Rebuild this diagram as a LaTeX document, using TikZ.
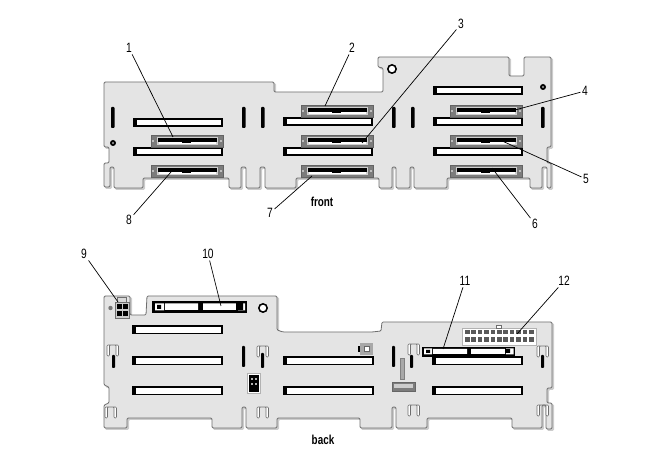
\documentclass[tikz,border=0pt]{standalone}
\usepackage{fontspec}
\setmainfont[FakeStretch=0.76]{Liberation Sans}
\definecolor{boardgray}{HTML}{E4E4E4}
\definecolor{shadegray}{HTML}{CCCCCC}
\definecolor{edgegray}{HTML}{6E6E6E}
\definecolor{framegray}{HTML}{7C7C7C}
\definecolor{pingray}{HTML}{A8A8A8}
\tikzset{
  board/.style={draw=edgegray, fill=boardgray, line width=0.8pt, rounded corners=1.2pt},
  shade/.style={draw=shadegray, fill=shadegray, line width=1pt, rounded corners=1.2pt},
  slot/.style={draw=black, fill=white, line width=1.4pt},
  bar/.style={fill=black, rounded corners=0.8pt},
  clip/.style={draw=edgegray, fill=white, line width=0.7pt, rounded corners=1pt},
  scsi/.style={draw=framegray!80!black, fill=framegray, line width=0.5pt, minimum width=72pt, minimum height=12pt, inner sep=0pt},
  wide/.style={draw=black, fill=black, line width=0.6pt, inner sep=0pt},
  hole/.style={fill=black},
  num/.style={font=\fontsize{13.5}{13}\selectfont, inner sep=1.5pt},
  caption/.style={font=\fontsize{13}{13}\selectfont\bfseries, inner sep=1pt},
  leader/.style={draw=black, line width=0.7pt},
}
\newcommand{\frontboard}{(104,82) -- (274,82) -- (274,92) -- (383,92) -- (383,68) -- (378,67) -- (378,57) -- (509,57) -- (509,76) -- (524,76) -- (524,57) -- (551,57) -- (551,147) -- (547,147) -- (547,163) -- (551,163) -- (551,188) -- (547,188) -- (547,167) -- (542,167) -- (542,188) -- (530,188) -- (530,178) -- (447,178) -- (447,188) -- (414,188) -- (414,167) -- (410,167) -- (410,188) -- (396,188) -- (396,167) -- (392,167) -- (392,188) -- (379,188) -- (379,178) -- (296,178) -- (296,188) -- (265,188) -- (265,167) -- (260,167) -- (260,188) -- (246,188) -- (246,167) -- (241,167) -- (241,188) -- (229,188) -- (229,178) -- (143,178) -- (143,188) -- (114,188) -- (114,167) -- (110,167) -- (110,187) -- (104,187) -- (104,163) -- (109,163) -- (109,147) -- (104,147) -- cycle}
\newcommand{\backboard}{(104,296) -- (130,296) -- (130,315) -- (146,315) -- (147,296) -- (277,296) -- (277,330) -- (283,332) -- (372,332) -- (381,331) -- (382,322) -- (552,322) -- (552,388) -- (547,388) -- (547,403) -- (552,403) -- (552,429) -- (546,429) -- (546,405) -- (542,405) -- (542,428) -- (512,428) -- (512,418) -- (427,418) -- (427,428) -- (396,428) -- (396,407) -- (392,407) -- (392,428) -- (360,428) -- (360,418) -- (277,418) -- (277,428) -- (246,428) -- (246,407) -- (242,407) -- (242,428) -- (212,428) -- (212,418) -- (127,418) -- (127,428) -- (104,428) -- (104,405) -- (109,403) -- (109,387) -- (104,385) -- cycle}
\begin{document}
\begin{tikzpicture}[x=1pt,y=-1pt]
    \useasboundingbox (0,0) rectangle (657,473);
    % front board
    \path[shade,xshift=1.5pt,yshift=-1.5pt] \frontboard;
    \path[board] \frontboard;
    \foreach \x/\y in {134/119,134/148,284/118,284/148,434/87,434/118,434/148} {
        \draw[slot] (\x,\y) rectangle (\x+88,\y+7);
        \fill[black] (\x,\y) rectangle (\x+2.5,\y+7);
    }
    \foreach \x in {111,242,261,392,411,541}
        \fill[bar] (\x,107) rectangle (\x+3.5,128);
    \fill[black] (392,69) circle (5);
    \fill[white] (392,69) circle (3.2);
    \foreach \x/\y in {113/143,543/87,113/327,542.5/383} {
        \fill[hole] (\x,\y) circle (3);
        \fill[pingray] (\x,\y) circle (1.2);
    }
    \foreach \n/\x/\y in {connA/187/141,connB/337/111,connC/337/141,connD/486/111,connE/486/141,connF/486/171,connG/337/171,connH/187/171} {
        \node[scsi] (\n) at (\x,\y) {};
        \fill[white!82!black] (\x-30,\y-4) rectangle (\x+31,\y+4.5);
        \fill[white] (\x-28,\y-2) rectangle (\x+29,\y+3.5);
        \fill[black] (\x-29,\y-2.5) rectangle (\x+30,\y+1);
        \fill[black] (\x-5,\y-2.5) rectangle (\x+4,\y+2.5);
        \fill[white!75!black] (\x-35,\y-0.5) rectangle (\x-33,\y+1.5);
        \fill[white!75!black] (\x+33,\y-0.5) rectangle (\x+35,\y+1.5);
    }
    % back board
    \path[shade,xshift=1.5pt,yshift=-1.5pt] \backboard;
    \path[board] \backboard;
    \foreach \x/\y in {133/326,133/357,133/387,284/357,284/387,433/357,433/387} {
        \draw[slot] (\x,\y) rectangle (\x+89,\y+7.5);
        \fill[black] (\x,\y) rectangle (\x+2.5,\y+7.5);
    }
    \foreach \x/\y in {107/345,257/346,537/346,408/344,105/407,257/407,408/405,537/405} {
        \draw[clip] (\x,\y) -- (\x,\y+11) -- (\x+2.5,\y+11) -- (\x+2.5,\y) -- (\x+9,\y) -- (\x+9,\y+11) -- (\x+11.5,\y+11) -- (\x+11.5,\y) -- cycle;
    }
    \foreach \x/\y in {112/355,261/353,410/355,541/355}
        \fill[bar] (\x,\y) rectangle (\x+3,368);
    \foreach \x in {242,392}
        \fill[bar] (\x,346) rectangle (\x+3,367);
    \fill[black] (263,308) circle (5);
    \fill[white] (263,308) circle (3.2);
    % wide connectors on the back
    \node[wide,minimum width=94pt,minimum height=11.5pt] (connJ) at (199.5,307) {};
    \fill[white] (155,303.5) rectangle (164,310.5) (165,303.5) rectangle (198,310) (203,303.5) rectangle (236,310) (238,303.5) rectangle (245,310.5);
    \fill[black] (157,305) rectangle (161,309) (236,303) rectangle (243,310);
    \node[wide,minimum width=92pt,minimum height=9pt] (connK) at (468.5,351.5) {};
    \fill[white] (424,348.5) rectangle (432,354.5) (433,349) rectangle (467,354) (471,349) rectangle (505,354) (506,348.5) rectangle (513.5,354.5);
    \fill[black] (426,350) rectangle (430,353) (505,349) rectangle (510,353);
    % power connectors
    \node[draw=white!70!black,fill=white,minimum width=74pt,minimum height=17pt,inner sep=0pt] (connL) at (499,336.5) {};
    \draw[edgegray,fill=white] (496,325) rectangle (501,328);
    \foreach \i in {0,...,10} \foreach \y in {330,337.5}
        \fill[black!65] (465+\i*6.4,\y) rectangle (469.5+\i*6.4,\y+4.5);
    \draw[edgegray,fill=white!85!black] (117,297) rectangle (126,303);
    \node[draw=edgegray,fill=white!80!black,minimum width=14pt,minimum height=16pt,inner sep=0pt] (connI) at (122,310) {};
    \foreach \x/\y in {117/304.5,123/304.5,117/311.5,123/311.5}
        \fill[black] (\x,\y) rectangle (\x+4.5,\y+4.5);
    \fill[pingray!70!black] (110.5,308) circle (2.2);
    % jumper, switch, pin header
    \draw[white!70!black,fill=white] (247,373) rectangle (260,393);
    \fill[black] (249,375) rectangle (259,392);
    \foreach \x in {251,255} \foreach \y in {378,383}
        \fill[white!70!black] (\x,\y) rectangle (\x+2,\y+2);
    \fill[pingray] (360,343) rectangle (373,355);
    \fill[black] (358,346) rectangle (360,352);
    \filldraw[fill=white,draw=black!60] (364,346.5) rectangle (369,351.5);
    \filldraw[fill=pingray,draw=black!50] (400,358) rectangle (404,379);
    \filldraw[fill=framegray,draw=black!60] (392,382) rectangle (415,391);
    \fill[white!80!black] (394,384) rectangle (413,388);
    % leaders
    \coordinate (endA) at (173,137);
    \coordinate (endB) at (325,106);
    \coordinate (endC) at (362,143);
    \coordinate (endD) at (515,110);
    \coordinate (endE) at (500,140);
    \coordinate (endF) at (492,168);
    \coordinate (endG) at (312,176);
    \coordinate (endH) at (171,172);
    \coordinate (endI) at (118,302);
    \coordinate (endJ) at (221,306);
    \coordinate (endK) at (443,349);
    \coordinate (endL) at (517,334);
    \foreach \n/\t/\x/\y in {A/1/129/48,B/2/352/48,C/3/461/24,D/4/585/91,E/5/586/179,F/6/535/224,G/7/270/213,H/8/129/220,I/9/84/254,J/10/208/254,K/11/465/281,L/12/564/281} {
        \node[num] (lab\n) at (\x,\y) {\t};
        \draw[leader] (lab\n) -- (end\n);
    }
    \node[caption] (front) at (322,202) {front};
    \node[caption] (back) at (323,440) {back};
\end{tikzpicture}
\end{document}
